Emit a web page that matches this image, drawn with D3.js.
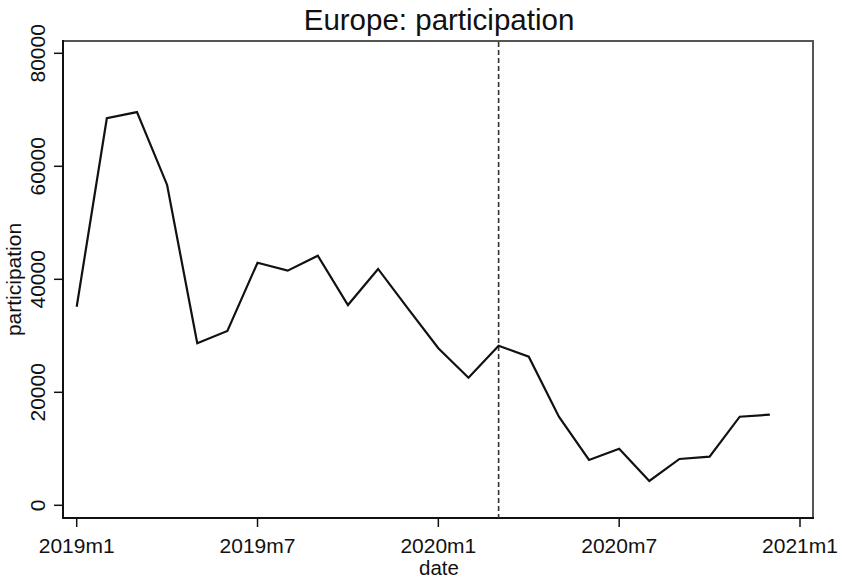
<!DOCTYPE html>
<html>
<head>
<meta charset="utf-8">
<script src="https://cdn.jsdelivr.net/npm/d3@7"></script>
<style>
  html, body { margin: 0; padding: 0; background: #fff; }
  svg { display: block; font-family: "Liberation Sans", Arial, sans-serif; }
</style>
</head>
<body>
<svg id="chart" width="842" height="579"></svg>
<script>
// Data (monthly, 2019m1 .. 2020m12)
const months = ["2019m1","2019m2","2019m3","2019m4","2019m5","2019m6","2019m7","2019m8","2019m9","2019m10","2019m11","2019m12",
                "2020m1","2020m2","2020m3","2020m4","2020m5","2020m6","2020m7","2020m8","2020m9","2020m10","2020m11","2020m12"];
const participation = [35150, 68500, 69600, 56700, 28670, 30850, 42940, 41530, 44180, 35450, 41830, 34750,
                       27790, 22590, 28250, 26300, 15680, 8020, 10020, 4300, 8200, 8600, 15680, 16040];
const xTickIndex = [0, 6, 12, 18, 24];
const xTickLabels = ["2019m1", "2019m7", "2020m1", "2020m7", "2021m1"];
const yTicks = [0, 20000, 40000, 60000, 80000];
const eventIndex = 14; // 2020m3

const svg = d3.select("#chart");
const plot = { left: 63, right: 813, top: 41, bottom: 518 };

const x = d3.scaleLinear().domain([0, 24]).range([76.7, 800]);
const y = d3.scaleLinear().domain([0, 80000]).range([505.3, 53.3]);

// frame (top/right)
svg.append("path")
  .attr("d", `M${plot.left},${plot.top}H${plot.right}V${plot.bottom}`)
  .attr("fill", "none").attr("stroke", "#555").attr("stroke-width", 2);

// Y axis
const yAxis = svg.append("g").attr("transform", `translate(${plot.left},0)`);
yAxis.append("line").attr("x1", 0).attr("x2", 0).attr("y1", plot.top - 1).attr("y2", plot.bottom + 1)
  .attr("stroke", "#111").attr("stroke-width", 2);
yTicks.forEach(v => {
  yAxis.append("line").attr("x1", -9).attr("x2", 0).attr("y1", y(v)).attr("y2", y(v))
    .attr("stroke", "#111").attr("stroke-width", 1.5);
  yAxis.append("text")
    .attr("transform", `translate(-18,${y(v)}) rotate(-90)`)
    .attr("text-anchor", "middle")
    .attr("font-size", 21).attr("fill", "#111")
    .text(d3.format("d")(v));
});

// X axis
const xAxis = svg.append("g").attr("transform", `translate(0,${plot.bottom})`);
xAxis.append("line").attr("x1", plot.left - 1).attr("x2", plot.right + 1).attr("y1", 0).attr("y2", 0)
  .attr("stroke", "#111").attr("stroke-width", 2);
xTickIndex.forEach((v, i) => {
  xAxis.append("line").attr("x1", x(v)).attr("x2", x(v)).attr("y1", 0).attr("y2", 9)
    .attr("stroke", "#111").attr("stroke-width", 1.5);
  xAxis.append("text")
    .attr("x", x(v)).attr("y", 34.5)
    .attr("text-anchor", "middle")
    .attr("font-size", 21).attr("fill", "#111")
    .text(xTickLabels[i]);
});

// axis titles
svg.append("text").attr("x", 439).attr("y", 574.5).attr("text-anchor", "middle")
  .attr("font-size", 20.5).attr("fill", "#111").text("date");
svg.append("text").attr("transform", `translate(21,${(plot.top + plot.bottom) / 2}) rotate(-90)`)
  .attr("text-anchor", "middle").attr("font-size", 21).attr("fill", "#111").text("participation");

// title
svg.append("text").attr("x", 439).attr("y", 30).attr("text-anchor", "middle")
  .attr("font-size", 29.5).attr("fill", "#111").text("Europe: participation");

// event line
svg.append("line")
  .attr("x1", x(eventIndex)).attr("x2", x(eventIndex))
  .attr("y1", plot.top + 1).attr("y2", plot.bottom)
  .attr("stroke", "#333").attr("stroke-width", 1.6).attr("stroke-dasharray", "5,3");

// data line
const line = d3.line().x((d, i) => x(i)).y(d => y(d));
svg.append("path").datum(participation)
  .attr("d", line).attr("fill", "none")
  .attr("stroke", "#111").attr("stroke-width", 2.2).attr("stroke-linejoin", "miter");
</script>
</body>
</html>
